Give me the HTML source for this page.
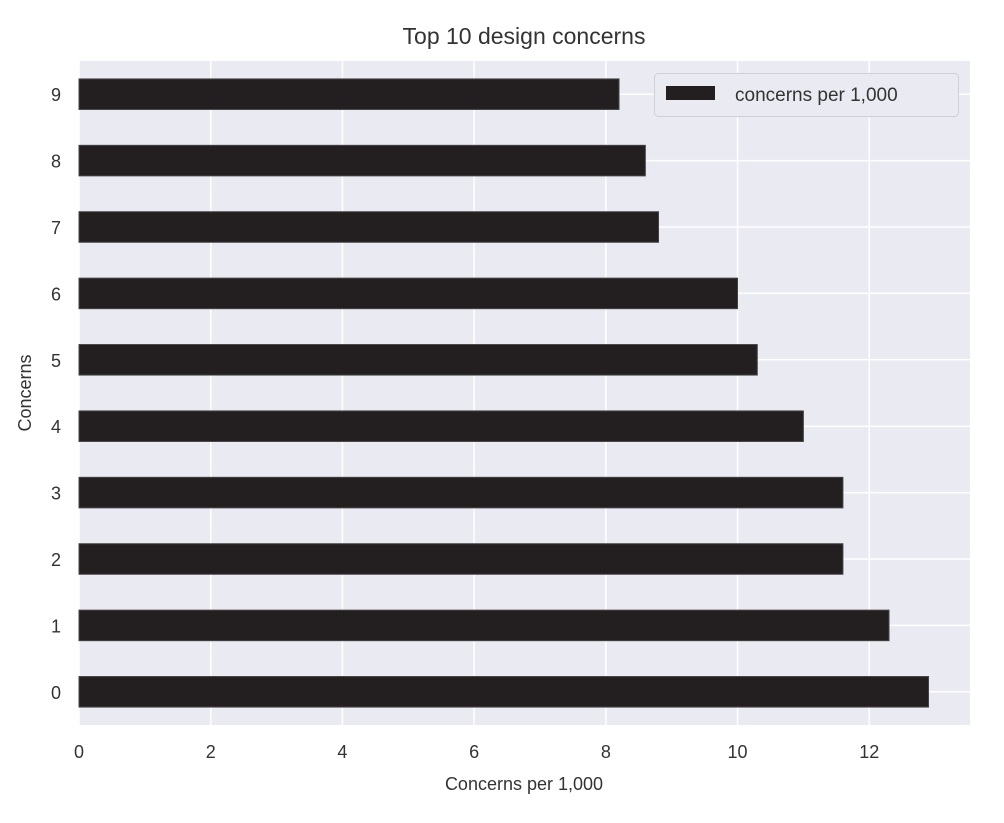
<!DOCTYPE html>
<html><head><meta charset="utf-8"><style>
body{margin:0;background:#fff;font-family:"Liberation Sans",Arial,sans-serif;}
text{font-family:"Liberation Sans",Arial,sans-serif;fill:#333;}
</style></head><body>
<svg id="chart" width="1004" height="818" xmlns="http://www.w3.org/2000/svg">
<text x="524" y="44" font-size="23" text-anchor="middle">Top 10 design concerns</text>
<rect x="79" y="61" width="891" height="664" fill="#eaeaf2"/>
<g id="grid"></g><g id="bars"></g><g id="ticks"></g>
<text x="524" y="790" font-size="18" text-anchor="middle">Concerns per 1,000</text>
<text transform="translate(31,393) rotate(-90)" font-size="18" text-anchor="middle">Concerns</text>
<g>
<rect x="654.5" y="73.5" width="304" height="43" rx="4" fill="#eaeaf2" stroke="#cfcfd6"/>
<rect x="666" y="86" width="49" height="14" fill="#231f20"/>
<text x="735" y="101" font-size="19">concerns per 1,000</text>
</g>
</svg>
<script>
const categories=["0","1","2","3","4","5","6","7","8","9"];
const values=[12.9,12.3,11.6,11.6,11.0,10.3,10.0,8.8,8.6,8.2];
const xTicks=[0,2,4,6,8,10,12];
const NS="http://www.w3.org/2000/svg";
const L=79,R=970,T=61,B=725,XMAX=13.53;
const n=categories.length,step=(B-T)/n;
function xs(v){return L+v/XMAX*(R-L);}
function ys(i){return B-step*(i+0.5);}
function mk(tag,attrs,parent){const e=document.createElementNS(NS,tag);for(const k in attrs)e.setAttribute(k,attrs[k]);document.getElementById(parent).appendChild(e);return e;}
xTicks.forEach(t=>{
 const g=mk('line',{x1:xs(t),x2:xs(t),y1:T,y2:B,stroke:'#fff','stroke-width':1.5},'grid');
 
 
 const l=mk('text',{x:xs(t),y:B+33,'font-size':18,'text-anchor':'middle'},'ticks');l.textContent=t;
 
 
});
categories.forEach((c,i)=>{
 const g=mk('line',{x1:L,x2:R,y1:ys(i),y2:ys(i),stroke:'#fff','stroke-width':1.5},'grid');
 
 
 const h=step*0.46;
 const b=mk('rect',{x:xs(0),y:ys(i)-h/2,width:xs(values[i])-xs(0),height:h,fill:'#231f20',stroke:'#444','stroke-width':1},'bars');
 
 
 const l=mk('text',{x:61,y:ys(i)+7,'font-size':18,'text-anchor':'end'},'ticks');l.textContent=c;
 
 
});
</script>
</body></html>
